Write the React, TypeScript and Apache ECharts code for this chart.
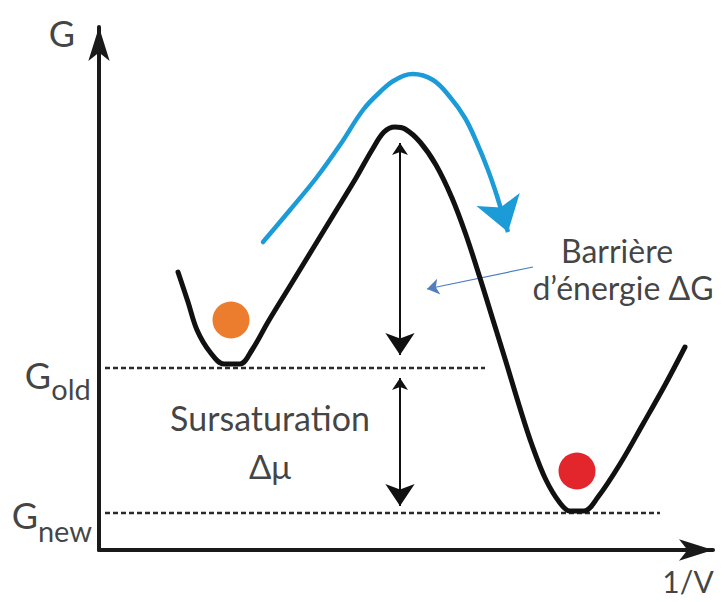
import React, { useEffect, useRef } from "react";
import * as echarts from "echarts";

// Energy profile (x: 1/V, y: G), schematic units
const curveX = [79, 89, 98, 111, 125, 141, 153, 169, 191, 213, 235, 257, 273, 285, 296, 306, 321, 337, 353, 367, 381, 394, 407, 420, 433, 447, 461, 471, 485, 499, 521, 544, 566, 586];
const curveY = [278, 248, 220, 198, 186, 186, 200, 228, 264, 300, 336, 372, 400, 418, 423, 421, 408, 385, 352, 315, 272, 230, 188, 145, 105, 70, 47, 39, 39, 53, 86, 126, 165, 203];

// Curved blue arrow path over the barrier
const flowX = [164, 191, 218, 241, 264, 281, 296, 314, 334, 351, 366, 378, 389, 398];
const flowY = [308, 340, 373, 405, 440, 458, 470, 476, 470, 453, 432, 407, 380, 354];
const flowHead = [[398, 354], [409, 318]];

// Levels
const gOld = 182;
const gNew = 37;
const gOldSpan = [6, 386];
const gNewSpan = [6, 561];

// Double arrows (barrier, supersaturation)
const barrierArrow = [[301, 407], [301, 195]];
const supersatArrow = [[301, 172], [301, 44]];
// Pointer from label to barrier
const pointer = [[434, 283], [328, 261]];

// Particles
const oldParticle = [132, 230];
const newParticle = [478, 79];

// Text labels
const labelNames = ["G", "G", "old", "G", "new", "Sursaturation", "Δμ", "Barrière", "d’énergie ΔG", "1/V"];
const labelX = [-37, -61, -28, -74, -34, 171, 171, 518, 524, 589];
const labelY = [517, 175, 162, 35, 20, 133, 84, 300, 263, -31];

export default function App() {
  const ref = useRef<HTMLDivElement>(null);
  useEffect(() => {
    if (!ref.current) return;
    const chart = echarts.init(ref.current, null, { renderer: "svg" });
    const font = "Lato";
    const sizes = [36, 36, 29, 36, 29, 34, 33, 32, 32, 30];
    const axisCommon = {
      type: "value" as const,
      axisLine: {
        show: true,
        symbol: ["none", "arrow"],
        symbolSize: [16, 34],
        lineStyle: { color: "#1a1a1a", width: 4 },
      },
      axisTick: { show: false },
      axisLabel: { show: false },
      splitLine: { show: false },
    };
    chart.setOption({
      animation: false,
      backgroundColor: "#ffffff",
      grid: { left: 99, right: 12, top: 27, bottom: 52 },
      xAxis: { ...axisCommon, min: 0, max: 614 },
      yAxis: { ...axisCommon, min: 0, max: 523 },
      series: [
        {
          type: "line",
          data: [[gOldSpan[0], gOld], [gOldSpan[1], gOld]],
          symbol: "none",
          lineStyle: { color: "#2a2a2a", width: 2.5, type: [5, 3] },
          silent: true,
        },
        {
          type: "line",
          data: [[gNewSpan[0], gNew], [gNewSpan[1], gNew]],
          symbol: "none",
          lineStyle: { color: "#2a2a2a", width: 2.5, type: [5, 3] },
          silent: true,
        },
        {
          type: "line",
          data: curveX.map((x, i) => [x, curveY[i]]),
          symbol: "none",
          smooth: 0.35,
          lineStyle: { color: "#111", width: 5, cap: "round", join: "round" },
        },
        {
          type: "line",
          data: flowX.map((x, i) => [x, flowY[i]]),
          symbol: "none",
          smooth: 0.4,
          lineStyle: { color: "#1b9bd7", width: 4.5, cap: "round", join: "round" },
        },
        {
          type: "lines",
          coordinateSystem: "cartesian2d",
          symbol: ["none", "arrow"],
          symbolSize: [20, 34],
          lineStyle: { color: "#1b9bd7", width: 4.5, opacity: 1 },
          data: [{ coords: flowHead }],
        },
        {
          type: "lines",
          coordinateSystem: "cartesian2d",
          symbol: ["arrow", "arrow"],
          symbolSize: [12, 22],
          lineStyle: { color: "#111", width: 2, opacity: 1 },
          data: [{ coords: barrierArrow }, { coords: supersatArrow }],
        },
        {
          type: "lines",
          coordinateSystem: "cartesian2d",
          symbol: ["none", "arrow"],
          symbolSize: [8, 12],
          lineStyle: { color: "#4f7fbf", width: 1.2, opacity: 1 },
          data: [{ coords: pointer }],
        },
        {
          type: "scatter",
          symbolSize: 37,
          clip: false,
          data: [
            { value: oldParticle, itemStyle: { color: "#ec7d2e", opacity: 1 } },
            { value: newParticle, itemStyle: { color: "#e3262b", opacity: 1 } },
          ],
        },
        {
          type: "scatter",
          symbolSize: 0,
          clip: false,
          silent: true,
          data: labelNames.map((n, i) => ({
            value: [labelX[i], labelY[i]],
            label: {
              show: true,
              position: "inside",
              formatter: n,
              color: "#111",
              fontFamily: font,
              fontSize: sizes[i],
              align: "center",
              verticalAlign: "middle",
            },
          })),
        },
      ],
    });
    return () => chart.dispose();
  }, []);
  return (
    <div
      ref={ref}
      style={{ position: "absolute", left: 0, top: 0, width: 725, height: 602, background: "#fff" }}
    />
  );
}
